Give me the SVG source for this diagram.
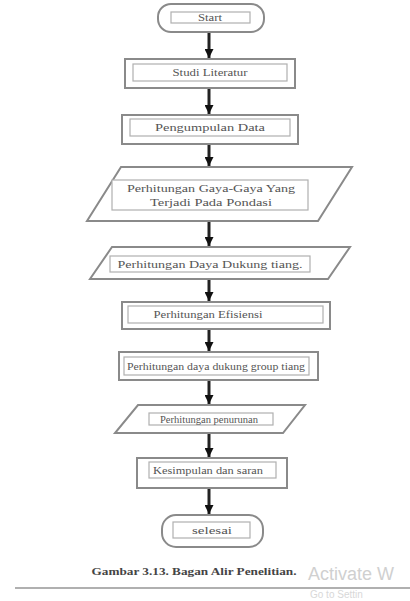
<svg xmlns="http://www.w3.org/2000/svg" width="410" height="601" viewBox="0 0 410 601">
<defs>
<marker id="ah" markerUnits="userSpaceOnUse" markerWidth="10" markerHeight="9" refX="9" refY="4.5" orient="auto">
<path d="M0,0 L9,4.5 L0,9 Z" fill="#111"/>
</marker>
<style>
.outer{fill:#fff;stroke:#8a8a8a;stroke-width:2}
.inner{fill:#fff;stroke:#b0b0b0;stroke-width:1.2}
.t{font-family:"Liberation Serif","Times New Roman",serif;font-size:10px;fill:#555;text-anchor:middle}
.c{stroke:#222;stroke-width:3;fill:none}
</style>
</defs>
<rect width="410" height="601" fill="#fff"/>
<g id="connectors">
<line class="c" x1="209" y1="32" x2="209" y2="58" marker-end="url(#ah)"/>
<line class="c" x1="209" y1="88" x2="209" y2="114" marker-end="url(#ah)"/>
<line class="c" x1="209" y1="144" x2="209" y2="166" marker-end="url(#ah)"/>
<line class="c" x1="209" y1="221" x2="209" y2="246" marker-end="url(#ah)"/>
<line class="c" x1="209" y1="279" x2="209" y2="301" marker-end="url(#ah)"/>
<line class="c" x1="209" y1="329" x2="209" y2="351" marker-end="url(#ah)"/>
<line class="c" x1="209" y1="380" x2="209" y2="404" marker-end="url(#ah)"/>
<line class="c" x1="209" y1="433" x2="209" y2="457" marker-end="url(#ah)"/>
<line class="c" x1="209" y1="488" x2="209" y2="514" marker-end="url(#ah)"/>
</g>
<g id="start">
<rect class="outer" x="158" y="4" width="106" height="28" rx="13"/>
<rect class="inner" x="171" y="12" width="79" height="11"/>
<text class="t" x="210" y="21" textLength="24" lengthAdjust="spacingAndGlyphs">Start</text>
</g>
<g id="studi">
<rect class="outer" x="125" y="59" width="170" height="29"/>
<rect class="inner" x="133" y="64" width="154" height="17"/>
<text class="t" x="210" y="76" textLength="75" lengthAdjust="spacingAndGlyphs">Studi Literatur</text>
</g>
<g id="pengumpulan">
<rect class="outer" x="122" y="115" width="176" height="29"/>
<rect class="inner" x="130" y="119" width="160" height="17"/>
<text class="t" x="210" y="131" textLength="110" lengthAdjust="spacingAndGlyphs">Pengumpulan Data</text>
</g>
<g id="gaya">
<polygon class="outer" points="121,167 352,167 318,221 87,221"/>
<rect class="inner" x="112" y="180" width="196" height="30"/>
<text class="t" x="211" y="192" textLength="168" lengthAdjust="spacingAndGlyphs">Perhitungan Gaya-Gaya Yang</text>
<text class="t" x="211" y="206" textLength="122" lengthAdjust="spacingAndGlyphs">Terjadi Pada Pondasi</text>
</g>
<g id="dayadukung">
<polygon class="outer" points="112,247 350,247 328,279 90,279"/>
<rect class="inner" x="110" y="256" width="200" height="16"/>
<text class="t" x="210" y="268" textLength="185" lengthAdjust="spacingAndGlyphs">Perhitungan Daya Dukung tiang.</text>
</g>
<g id="efisiensi">
<rect class="outer" x="122" y="302" width="208" height="27"/>
<rect class="inner" x="128" y="306" width="195" height="17"/>
<text class="t" x="208" y="318" textLength="109" lengthAdjust="spacingAndGlyphs">Perhitungan Efisiensi</text>
</g>
<g id="group">
<rect class="outer" x="119" y="352" width="199" height="28"/>
<rect class="inner" x="124" y="357" width="185" height="18"/>
<text class="t" x="216" y="370" textLength="178" lengthAdjust="spacingAndGlyphs">Perhitungan daya dukung group tiang</text>
</g>
<g id="penurunan">
<polygon class="outer" points="138,405 305,405 283,433 115,433"/>
<rect class="inner" x="149" y="413" width="124" height="12"/>
<text class="t" x="209" y="423" textLength="98" lengthAdjust="spacingAndGlyphs">Perhitungan penurunan</text>
</g>
<g id="kesimpulan">
<rect class="outer" x="137" y="458" width="150" height="30"/>
<rect class="inner" x="149" y="462" width="127" height="16"/>
<text class="t" x="208" y="474" textLength="110" lengthAdjust="spacingAndGlyphs">Kesimpulan dan saran</text>
</g>
<g id="selesai">
<rect class="outer" x="162" y="515" width="101" height="32" rx="14"/>
<rect class="inner" x="173" y="522" width="77" height="16"/>
<text class="t" x="212" y="534" textLength="40" lengthAdjust="spacingAndGlyphs">selesai</text>
</g>
<text x="194" y="575" style="font-family:'Liberation Serif','Times New Roman',serif;font-size:10px;font-weight:bold;fill:#444;text-anchor:middle" textLength="205" lengthAdjust="spacingAndGlyphs">Gambar 3.13. Bagan Alir Penelitian.</text>
<text x="308" y="580" style="font-family:'Liberation Sans',Arial,sans-serif;font-size:18px;fill:#d0d0d0">Activate W</text>
<line x1="15" y1="588" x2="410" y2="588" stroke="#b0b0b0" stroke-width="2"/>
<text x="310" y="598" style="font-family:'Liberation Sans',Arial,sans-serif;font-size:10px;fill:#d8d8d8">Go to Settin</text>
</svg>
